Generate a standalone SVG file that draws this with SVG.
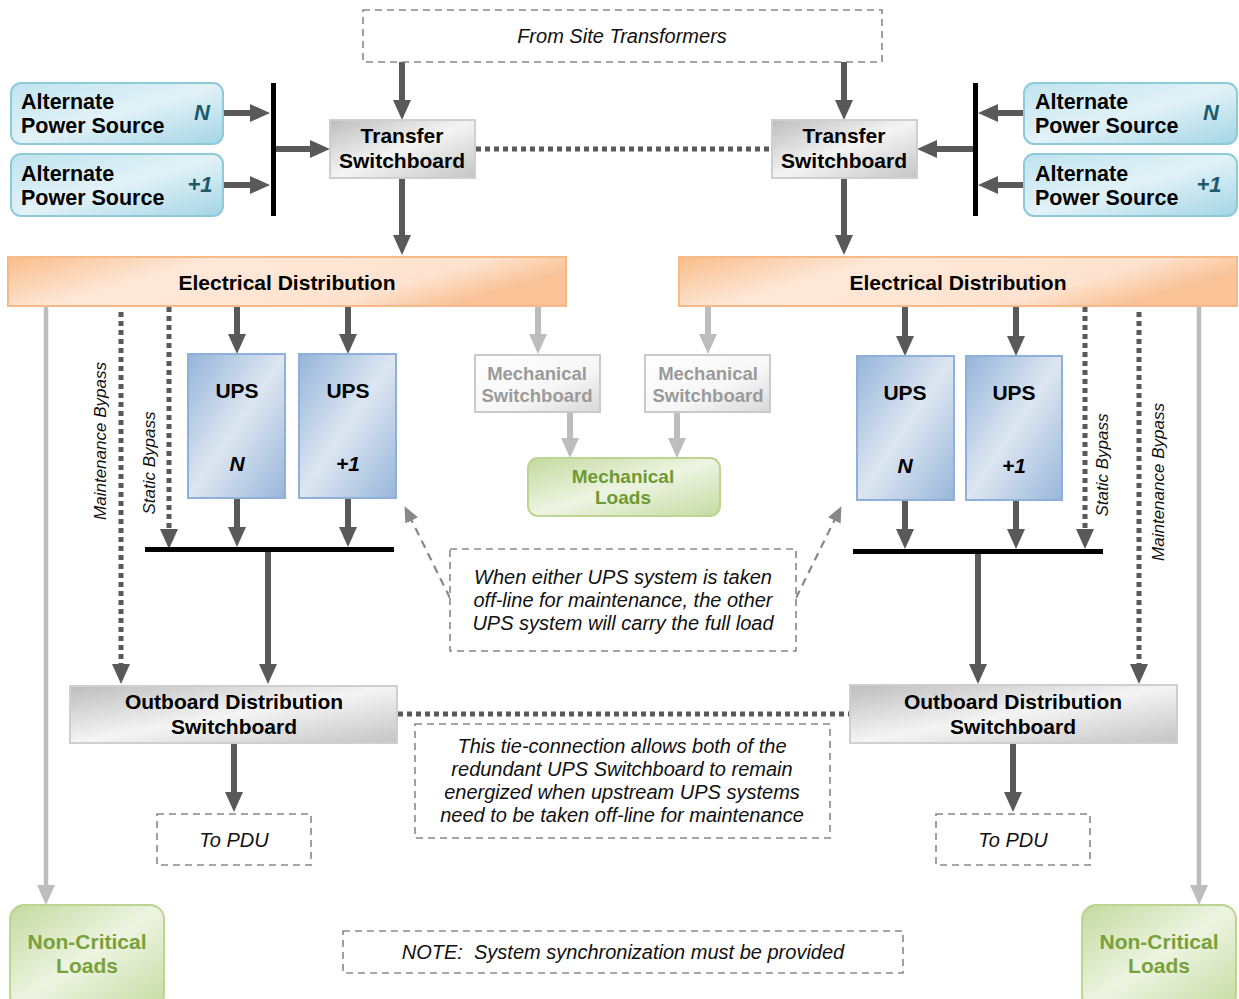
<svg xmlns="http://www.w3.org/2000/svg" width="1239" height="999" viewBox="0 0 1239 999">
<defs>
<style>
text{font-family:"Liberation Sans",Arial,sans-serif;}
.b{font-weight:bold;font-size:21px;fill:#000;text-anchor:middle;}
.bl{font-weight:bold;font-size:21.5px;fill:#000;}
.it{font-style:italic;font-size:20px;fill:#111;text-anchor:middle;}
.rot{font-style:italic;font-size:17px;fill:#111;text-anchor:middle;}
.mech{font-weight:bold;font-size:18.5px;fill:#9a9a9a;text-anchor:middle;}
.grn{font-weight:bold;font-size:19px;fill:#6e9a33;text-anchor:middle;}
.grnb{font-weight:bold;font-size:21px;fill:#77a23a;text-anchor:middle;}
.tag{font-weight:bold;font-style:italic;font-size:22px;fill:#1f5a6c;text-anchor:middle;}
.ups{font-weight:bold;font-size:21px;fill:#000;text-anchor:middle;}
.upsi{font-weight:bold;font-style:italic;font-size:21px;fill:#000;text-anchor:middle;}
.dash{fill:#fff;stroke:#888;stroke-width:1.6;stroke-dasharray:7 5;}
.alt{fill:url(#gAlt);stroke:#8fcadb;stroke-width:2;}
.ts{fill:url(#gGray);stroke:#cfcfcf;stroke-width:2;}
.ed{fill:url(#gOr);stroke:#f6b988;stroke-width:2;}
.upsbox{fill:url(#gBlue);stroke:#8eb0d9;stroke-width:2;}
.ms{fill:url(#gLt);stroke:#cacaca;stroke-width:2;}
.green{fill:url(#gGrn);stroke:#bcd592;stroke-width:2;}
.ar{stroke:#595959;stroke-width:6;fill:none;marker-end:url(#mD);}
.arl{stroke:#bdbdbd;stroke-width:6;fill:none;marker-end:url(#mL);}
.gline{stroke:#bdbdbd;stroke-width:4.5;fill:none;marker-end:url(#mL);}
.dot{stroke:#595959;stroke-width:5;stroke-dasharray:5 4;fill:none;}
.dota{stroke:#595959;stroke-width:5;stroke-dasharray:5 4;fill:none;marker-end:url(#mD);}
.dsh{stroke:#888;stroke-width:2.2;stroke-dasharray:8 6;fill:none;marker-end:url(#mG);}
.bus{fill:#000;}
</style>
<marker id="mD" viewBox="0 0 20 18" refX="10" refY="9" markerWidth="20" markerHeight="18" markerUnits="userSpaceOnUse" orient="auto"><path d="M0,0 L20,9 L0,18 Z" fill="#595959"/></marker>
<marker id="mL" viewBox="0 0 20 18" refX="10" refY="9" markerWidth="20" markerHeight="18" markerUnits="userSpaceOnUse" orient="auto"><path d="M0,0 L20,9 L0,18 Z" fill="#bdbdbd"/></marker>
<marker id="mG" viewBox="0 0 16 14" refX="8" refY="7" markerWidth="16" markerHeight="14" markerUnits="userSpaceOnUse" orient="auto"><path d="M0,0 L16,7 L0,14 Z" fill="#888"/></marker>
<linearGradient id="gAlt" x1="0" y1="0" x2="1" y2="1"><stop offset="0" stop-color="#bfe3ee"/><stop offset="0.5" stop-color="#e2f2f7"/><stop offset="1" stop-color="#a3d5e4"/></linearGradient>
<linearGradient id="gGray" x1="0" y1="0" x2="1" y2="1"><stop offset="0" stop-color="#bdbdbd"/><stop offset="0.5" stop-color="#f4f4f4"/><stop offset="1" stop-color="#c4c4c4"/></linearGradient>
<linearGradient id="gOr" x1="0" y1="0" x2="1" y2="0.3"><stop offset="0" stop-color="#f9bd8a"/><stop offset="0.35" stop-color="#fde8d8"/><stop offset="0.8" stop-color="#fde3cf"/><stop offset="1" stop-color="#f9c297"/></linearGradient>
<linearGradient id="gBlue" x1="0" y1="0" x2="1" y2="1"><stop offset="0" stop-color="#94b4da"/><stop offset="0.5" stop-color="#dde6f1"/><stop offset="1" stop-color="#98b6da"/></linearGradient>
<linearGradient id="gLt" x1="0" y1="0" x2="1" y2="1"><stop offset="0" stop-color="#ffffff"/><stop offset="0.6" stop-color="#f6f6f6"/><stop offset="1" stop-color="#d8d8d8"/></linearGradient>
<linearGradient id="gGrn" x1="0" y1="0" x2="1" y2="1"><stop offset="0" stop-color="#c3d99e"/><stop offset="0.5" stop-color="#eef4e2"/><stop offset="1" stop-color="#c5dba1"/></linearGradient>
</defs>
<rect width="1239" height="999" fill="#fff"/>

<g id="connectors">
<line class="ar" x1="402" y1="62" x2="402" y2="110"/>
<line class="ar" x1="844" y1="62" x2="844" y2="110"/>
<line class="ar" x1="223" y1="113" x2="260" y2="113"/>
<line class="ar" x1="223" y1="185" x2="260" y2="185"/>
<line class="ar" x1="276" y1="149" x2="320" y2="149"/>
<line class="ar" x1="1024" y1="113" x2="988" y2="113"/>
<line class="ar" x1="1024" y1="185" x2="988" y2="185"/>
<line class="ar" x1="973" y1="149" x2="927" y2="149"/>
<line class="dot" x1="476" y1="149" x2="771" y2="149"/>
<line class="ar" x1="402" y1="178" x2="402" y2="245"/>
<line class="ar" x1="844" y1="178" x2="844" y2="245"/>
<line class="gline" x1="46" y1="307" x2="46" y2="895"/>
<line class="gline" x1="1199" y1="307" x2="1199" y2="895"/>
<line class="dota" x1="121" y1="312" x2="121" y2="674"/>
<line class="dota" x1="169" y1="307" x2="169" y2="539"/>
<line class="dota" x1="1139" y1="312" x2="1139" y2="674"/>
<line class="dota" x1="1085" y1="307" x2="1085" y2="539"/>
<line class="ar" x1="237" y1="307" x2="237" y2="344"/>
<line class="ar" x1="348" y1="307" x2="348" y2="344"/>
<line class="ar" x1="905" y1="307" x2="905" y2="346"/>
<line class="ar" x1="1016" y1="307" x2="1016" y2="346"/>
<line class="arl" x1="538" y1="307" x2="538" y2="344"/>
<line class="arl" x1="708" y1="307" x2="708" y2="344"/>
<line class="arl" x1="570" y1="412" x2="570" y2="448"/>
<line class="arl" x1="677" y1="412" x2="677" y2="448"/>
<line class="ar" x1="237" y1="498" x2="237" y2="537"/>
<line class="ar" x1="348" y1="498" x2="348" y2="537"/>
<line class="ar" x1="905" y1="500" x2="905" y2="539"/>
<line class="ar" x1="1016" y1="500" x2="1016" y2="539"/>
<line class="ar" x1="268" y1="551" x2="268" y2="674"/>
<line class="ar" x1="978" y1="553" x2="978" y2="674"/>
<line class="dot" x1="398" y1="714" x2="849" y2="714"/>
<line class="ar" x1="234" y1="743" x2="234" y2="802"/>
<line class="ar" x1="1013" y1="743" x2="1013" y2="802"/>
<line class="dsh" x1="450" y1="598" x2="408.1" y2="513.3"/>
<line class="dsh" x1="796" y1="598" x2="837.9" y2="513.3"/>
<rect class="bus" x="271" y="83" width="5" height="133"/>
<rect class="bus" x="973" y="83" width="5" height="133"/>
<rect class="bus" x="145" y="547" width="249" height="5"/>
<rect class="bus" x="853" y="549" width="250" height="5"/>
</g>

<g id="from-site">
<rect class="dash" x="363" y="10" width="519" height="52"/>
<text class="it" x="622" y="43">From Site Transformers</text>
</g>

<g id="alt-left-n">
<rect class="alt" x="11" y="83" width="212" height="61" rx="10"/>
<text class="bl" x="21" y="109">Alternate</text>
<text class="bl" x="21" y="133">Power Source</text>
<text class="tag" x="202" y="120">N</text>
</g>
<g id="alt-left-1">
<rect class="alt" x="11" y="154" width="212" height="62" rx="10"/>
<text class="bl" x="21" y="181">Alternate</text>
<text class="bl" x="21" y="205">Power Source</text>
<text class="tag" x="200" y="192">+1</text>
</g>
<g id="alt-right-n">
<rect class="alt" x="1024" y="83" width="213" height="61" rx="10"/>
<text class="bl" x="1035" y="109">Alternate</text>
<text class="bl" x="1035" y="133">Power Source</text>
<text class="tag" x="1211" y="120">N</text>
</g>
<g id="alt-right-1">
<rect class="alt" x="1024" y="154" width="213" height="62" rx="10"/>
<text class="bl" x="1035" y="181">Alternate</text>
<text class="bl" x="1035" y="205">Power Source</text>
<text class="tag" x="1209" y="192">+1</text>
</g>

<g id="ts-left">
<rect class="ts" x="330" y="120" width="145" height="58"/>
<text class="b" x="402" y="143">Transfer</text>
<text class="b" x="402" y="168">Switchboard</text>
</g>
<g id="ts-right">
<rect class="ts" x="772" y="120" width="145" height="58"/>
<text class="b" x="844" y="143">Transfer</text>
<text class="b" x="844" y="168">Switchboard</text>
</g>

<g id="ed-left">
<rect class="ed" x="8" y="257" width="558" height="49"/>
<text class="b" x="287" y="290">Electrical Distribution</text>
</g>
<g id="ed-right">
<rect class="ed" x="679" y="257" width="558" height="49"/>
<text class="b" x="958" y="290">Electrical Distribution</text>
</g>

<g id="ups-left-n">
<rect class="upsbox" x="188" y="354" width="97" height="144"/>
<text class="ups" x="237" y="398">UPS</text>
<text class="upsi" x="237" y="471">N</text>
</g>
<g id="ups-left-1">
<rect class="upsbox" x="299" y="354" width="97" height="144"/>
<text class="ups" x="348" y="398">UPS</text>
<text class="upsi" x="348" y="471">+1</text>
</g>
<g id="ups-right-n">
<rect class="upsbox" x="857" y="356" width="97" height="144"/>
<text class="ups" x="905" y="400">UPS</text>
<text class="upsi" x="905" y="473">N</text>
</g>
<g id="ups-right-1">
<rect class="upsbox" x="966" y="356" width="96" height="144"/>
<text class="ups" x="1014" y="400">UPS</text>
<text class="upsi" x="1014" y="473">+1</text>
</g>

<g id="bypass-labels">
<text class="rot" transform="translate(106,441) rotate(-90)">Maintenance Bypass</text>
<text class="rot" transform="translate(155,463) rotate(-90)">Static Bypass</text>
<text class="rot" transform="translate(1108,465) rotate(-90)">Static Bypass</text>
<text class="rot" transform="translate(1164,482) rotate(-90)">Maintenance Bypass</text>
</g>

<g id="mech-sb-left">
<rect class="ms" x="475" y="355" width="125" height="57"/>
<text class="mech" x="537" y="380">Mechanical</text>
<text class="mech" x="537" y="402">Switchboard</text>
</g>
<g id="mech-sb-right">
<rect class="ms" x="645" y="355" width="125" height="57"/>
<text class="mech" x="708" y="380">Mechanical</text>
<text class="mech" x="708" y="402">Switchboard</text>
</g>
<g id="mech-loads">
<rect class="green" x="528" y="458" width="192" height="58" rx="10"/>
<text class="grn" x="623" y="483">Mechanical</text>
<text class="grn" x="623" y="504">Loads</text>
</g>

<g id="note-ups">
<rect class="dash" x="450" y="549" width="346" height="102"/>
<text class="it" x="623" y="584">When either UPS system is taken</text>
<text class="it" x="623" y="607">off-line for maintenance, the other</text>
<text class="it" x="623" y="630">UPS system will carry the full load</text>
</g>

<g id="ods-left">
<rect class="ts" x="70" y="686" width="327" height="57"/>
<text class="b" x="234" y="709">Outboard Distribution</text>
<text class="b" x="234" y="734">Switchboard</text>
</g>
<g id="ods-right">
<rect class="ts" x="850" y="685" width="327" height="58"/>
<text class="b" x="1013" y="709">Outboard Distribution</text>
<text class="b" x="1013" y="734">Switchboard</text>
</g>

<g id="note-tie">
<rect class="dash" x="415" y="724" width="415" height="114"/>
<text class="it" x="622" y="753">This tie-connection allows both of the</text>
<text class="it" x="622" y="776">redundant UPS Switchboard to remain</text>
<text class="it" x="622" y="799">energized when upstream UPS systems</text>
<text class="it" x="622" y="822">need to be taken off-line for maintenance</text>
</g>

<g id="pdu-left">
<rect class="dash" x="157" y="814" width="154" height="51"/>
<text class="it" x="234" y="847">To PDU</text>
</g>
<g id="pdu-right">
<rect class="dash" x="936" y="814" width="154" height="51"/>
<text class="it" x="1013" y="847">To PDU</text>
</g>

<g id="ncl-left">
<rect class="green" x="10" y="905" width="154" height="104" rx="14"/>
<text class="grnb" x="87" y="949">Non-Critical</text>
<text class="grnb" x="87" y="973">Loads</text>
</g>
<g id="ncl-right">
<rect class="green" x="1082" y="905" width="154" height="104" rx="14"/>
<text class="grnb" x="1159" y="949">Non-Critical</text>
<text class="grnb" x="1159" y="973">Loads</text>
</g>

<g id="note-sync">
<rect class="dash" x="343" y="931" width="560" height="42"/>
<text class="it" x="623" y="959" xml:space="preserve">NOTE:  System synchronization must be provided</text>
</g>
</svg>
